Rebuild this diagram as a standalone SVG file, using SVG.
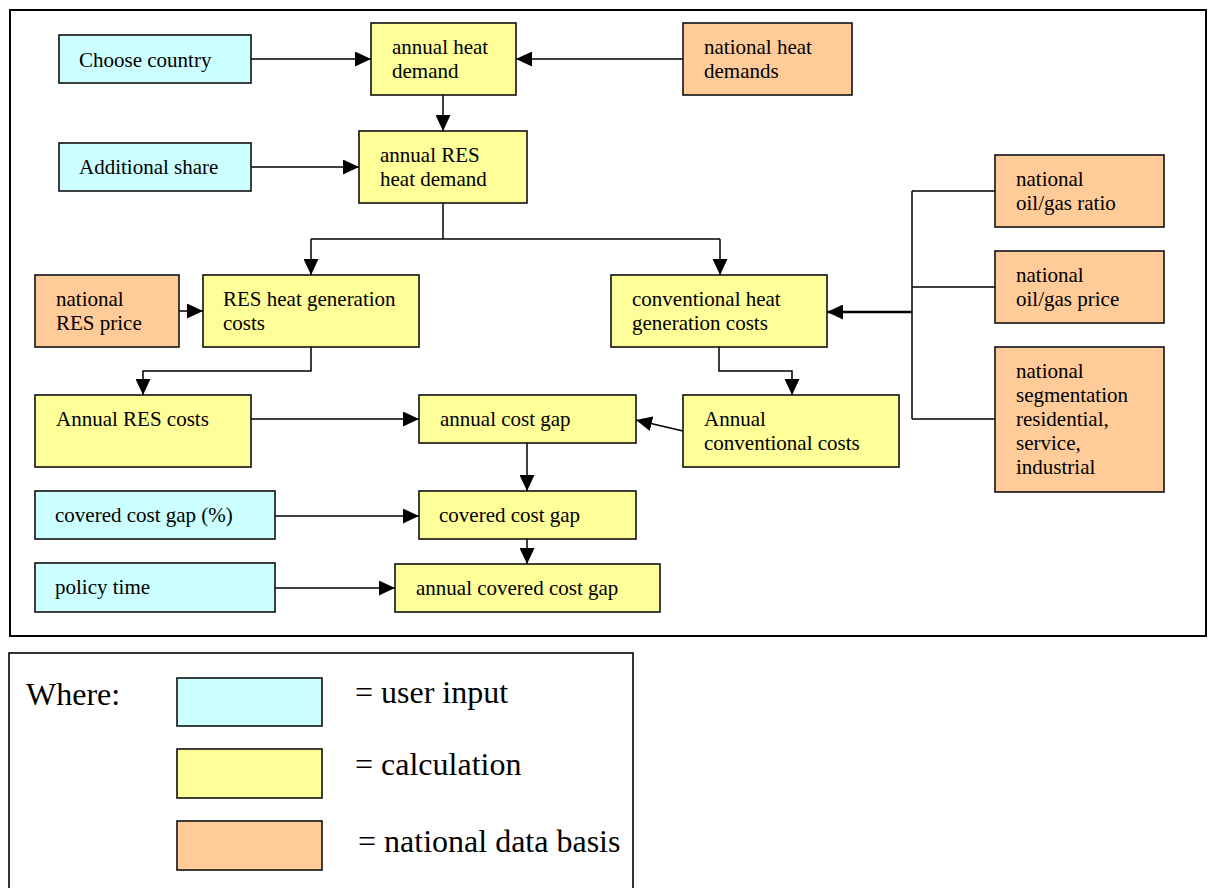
<svg xmlns="http://www.w3.org/2000/svg" width="1208" height="888" viewBox="0 0 1208 888">
<defs>
<style>
.frame{fill:none;stroke:#000;stroke-width:2}
.u{fill:#CCFFFF;stroke:#111;stroke-width:1.6}
.c{fill:#FFFF99;stroke:#111;stroke-width:1.6}
.n{fill:#FFCC99;stroke:#111;stroke-width:1.6}
.ln{fill:none;stroke:#000;stroke-width:1.5}
.thick{fill:none;stroke:#000;stroke-width:2.5}
</style>
<marker id="ah" markerUnits="userSpaceOnUse" markerWidth="16" markerHeight="15" refX="16" refY="7.5" orient="auto">
<path d="M0,0 L16,7.5 L0,15 z" fill="#000"/>
</marker>
</defs>
<rect width="1208" height="888" fill="#fff"/>
<rect class="frame" x="10" y="10" width="1196" height="626"/>

<g id="connectors">
<path class="ln" d="M251,59 H371" marker-end="url(#ah)"/>
<path class="ln" d="M683,59 H516" marker-end="url(#ah)"/>
<path class="ln" d="M443,95 V131" marker-end="url(#ah)"/>
<path class="ln" d="M251,167 H359" marker-end="url(#ah)"/>
<path class="ln" d="M443,203 V239"/>
<path class="ln" d="M311,239 H720"/>
<path class="ln" d="M311,239 V275" marker-end="url(#ah)"/>
<path class="ln" d="M720,239 V275" marker-end="url(#ah)"/>
<path class="ln" d="M179,311 H203" marker-end="url(#ah)"/>
<path class="ln" d="M311,347 V371 H143 V395" marker-end="url(#ah)"/>
<path class="ln" d="M719,347 V371 H792 V395" marker-end="url(#ah)"/>
<path class="ln" d="M251,419 H419" marker-end="url(#ah)"/>
<path class="ln" d="M683,431 L636,420" marker-end="url(#ah)"/>
<path class="ln" d="M527,443 V491" marker-end="url(#ah)"/>
<path class="ln" d="M275,516 H419" marker-end="url(#ah)"/>
<path class="ln" d="M527,539 V564" marker-end="url(#ah)"/>
<path class="ln" d="M275,588 H395" marker-end="url(#ah)"/>
<path class="ln" d="M912,191 V419"/>
<path class="ln" d="M912,191 H995"/>
<path class="ln" d="M912,287 H995"/>
<path class="ln" d="M912,419 H995"/>
<path class="thick" d="M912,312 H827" marker-end="url(#ah)"/>
</g>

<g font-family="'Liberation Serif', 'Times New Roman', Tinos, 'DejaVu Serif', serif" font-size="21" fill="#000">
<g id="choose-country"><rect class="u" x="59" y="35" width="192" height="48"/><text x="79" y="67">Choose country</text></g>
<g id="annual-heat-demand"><rect class="c" x="371" y="23" width="145" height="72"/><text x="392" y="54">annual heat</text><text x="392" y="78">demand</text></g>
<g id="national-heat-demands"><rect class="n" x="683" y="23" width="169" height="72"/><text x="704" y="54">national heat</text><text x="704" y="78">demands</text></g>
<g id="additional-share"><rect class="u" x="59" y="143" width="192" height="48"/><text x="79" y="174">Additional share</text></g>
<g id="annual-res-heat-demand"><rect class="c" x="359" y="131" width="168" height="72"/><text x="380" y="162">annual RES</text><text x="380" y="186">heat demand</text></g>
<g id="national-res-price"><rect class="n" x="35" y="275" width="144" height="72"/><text x="56" y="306">national</text><text x="56" y="330">RES price</text></g>
<g id="res-heat-generation-costs"><rect class="c" x="203" y="275" width="216" height="72"/><text x="223" y="306">RES heat generation</text><text x="223" y="330">costs</text></g>
<g id="conventional-heat-generation-costs"><rect class="c" x="611" y="275" width="216" height="72"/><text x="632" y="306">conventional heat</text><text x="632" y="330">generation costs</text></g>
<g id="annual-res-costs"><rect class="c" x="35" y="395" width="216" height="72"/><text x="56" y="426">Annual RES costs</text></g>
<g id="annual-cost-gap"><rect class="c" x="419" y="395" width="217" height="48"/><text x="440" y="426">annual cost gap</text></g>
<g id="annual-conventional-costs"><rect class="c" x="683" y="395" width="216" height="72"/><text x="704" y="426">Annual</text><text x="704" y="450">conventional costs</text></g>
<g id="national-oil-gas-ratio"><rect class="n" x="995" y="155" width="169" height="72"/><text x="1016" y="186">national</text><text x="1016" y="210">oil/gas ratio</text></g>
<g id="national-oil-gas-price"><rect class="n" x="995" y="251" width="169" height="72"/><text x="1016" y="282">national</text><text x="1016" y="306">oil/gas price</text></g>
<g id="national-segmentation"><rect class="n" x="995" y="347" width="169" height="145"/><text x="1016" y="378">national</text><text x="1016" y="402">segmentation</text><text x="1016" y="426">residential,</text><text x="1016" y="450">service,</text><text x="1016" y="474">industrial</text></g>
<g id="covered-cost-gap-pct"><rect class="u" x="35" y="491" width="240" height="48"/><text x="55" y="522">covered cost gap (%)</text></g>
<g id="covered-cost-gap"><rect class="c" x="419" y="491" width="217" height="48"/><text x="439" y="522">covered cost gap</text></g>
<g id="policy-time"><rect class="u" x="35" y="563" width="240" height="49"/><text x="55" y="594">policy time</text></g>
<g id="annual-covered-cost-gap"><rect class="c" x="395" y="564" width="265" height="48"/><text x="416" y="595">annual covered cost gap</text></g>

<g id="legend" font-size="32">
<rect x="9" y="653" width="624" height="260" fill="none" stroke="#000" stroke-width="1.6"/>
<text x="26" y="705">Where:</text>
<rect class="u" x="177" y="678" width="145" height="48"/>
<text x="355" y="703">= user input</text>
<rect class="c" x="177" y="749" width="145" height="49"/>
<text x="355" y="775">= calculation</text>
<rect class="n" x="177" y="821" width="145" height="49"/>
<text x="358" y="852">= national data basis</text>
</g>
</g>
</svg>
